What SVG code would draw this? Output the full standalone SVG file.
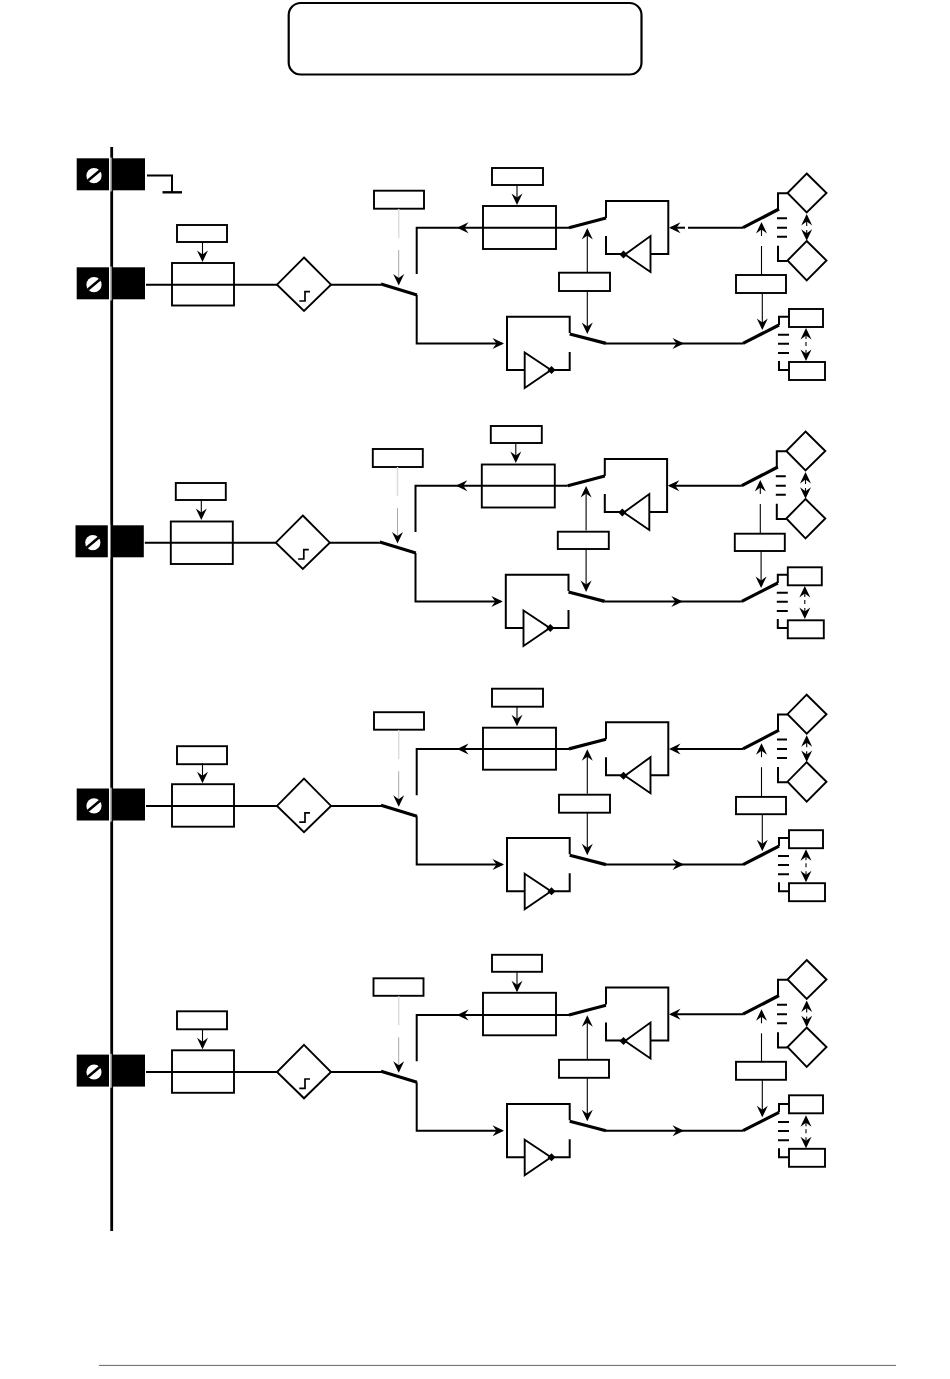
<svg xmlns="http://www.w3.org/2000/svg" width="950" height="1379" viewBox="0 0 950 1379">
<style>
.n{fill:#fff;stroke:#000;stroke-width:1.9}
.w{fill:none;stroke:#000;stroke-width:2}
.t{fill:none;stroke:#000;stroke-width:1.1}
.h{fill:none;stroke:#000;stroke-width:3.2}
.a{marker-end:url(#arrow)}
</style>
<defs>
<marker id="arrow" viewBox="0 0 12 12" refX="10" refY="6" markerWidth="12" markerHeight="12" markerUnits="userSpaceOnUse" orient="auto"><path d="M12 6L0.5 0.5L4.5 6L0.5 11.5Z" fill="#000"/></marker>
<g id="terminal">
<rect x="76.7" y="267.3" width="32.3" height="32"/>
<rect x="113" y="267.3" width="32" height="32"/>
<circle cx="94" cy="284.7" r="7.6" fill="#fff"/>
<line x1="88" y1="289.5" x2="100" y2="279.5" stroke="#000" stroke-width="2.6"/>
<rect x="110.4" y="266.5" width="1.1" height="34" fill="#fff"/>
</g>
<g id="step"><path class="n" d="M304 257.5L331 284.7L304 311L277 284.7Z"/><path d="M299.3 301H305V291.7H310" fill="none" stroke="#000" stroke-width="1.7"/></g>
<g id="invU"><path class="w" d="M606 218V201H668.3V254H650M624 254H606V236"/><path class="n" d="M650.5 236V272L625 254.5Z"/><path d="M623.5 250.5L627.5 254.5L623.5 258.5L619.5 254.5Z"/></g>
<g id="invL"><path class="w" d="M569.7 333V316.7H507V370H525M551 370H569.7V352"/><path class="n" d="M524.7 352.5V388L551 370Z"/><path d="M551.5 366L555.5 370L551.5 374L547.5 370Z"/></g>
<g id="wires">
<path class="w" d="M146 284.7H277M331 284.7H381"/>
<path class="h" d="M381 284L417 295"/>
<path class="w a" d="M416.7 295V343.4H502"/>
<path class="w" d="M416.7 274V227.7H459"/>
<path class="w a" d="M569 227.7H459"/>
<path class="h" d="M569 227.7L606 218"/>
<path class="h" d="M569.7 334L606 343.4"/>
<path class="w a" d="M606 343.4H682"/>
<path class="w" d="M682 343.4H743"/>
<path class="h" d="M743 343.4L779 325"/>
<path class="w" d="M779 325V316.7H789M779 361V370H789"/>
<path class="w" d="M778 334.7H789M778 343.7H789M778 353H789"/>
<path class="t a" d="M202.5 242V260"/>
<path class="t a" d="M517 185V203"/>
<path class="t a" d="M587.3 272.5V230"/>
<path class="t a" d="M587.3 291V332"/>
<path class="t a" d="M761.5 236V224"/>
<path class="t" d="M761.5 275V246"/>
<path class="t a" d="M762.3 293V328"/>
<path d="M398.7 209V238" fill="none" stroke="#ddd" stroke-width="1.5"/>
<path d="M398.7 250V278" fill="none" stroke="#aaa" stroke-width="1"/>
<path class="t a" d="M398.7 278V283.5"/>
<path class="t a" d="M806 339V330"/>
<path class="t" d="M806 342V346"/>
<path class="t a" d="M806 350V359"/>
</g>
<g id="wires-ur">
<path class="h" d="M743 227.7L779 209"/>
<path class="w" d="M778 209V193.3H787.5M778 245.7V261H787.5"/>
<path class="w" d="M777 218.3H787M777 227.7H787M777 236.7H787"/>
<path class="t a" d="M806.7 226V216"/>
<path class="t a" d="M806.7 230V238.7"/>
</g>
<g id="dia-ur"><path class="n" d="M806.7 173.5L826.5 193L806.7 212.5L787.5 193Z"/></g>
<g id="dia-lr"><path class="n" d="M806.7 241L826.5 260.5L806.7 280.5L787.5 260.5Z"/></g>
</defs>

<rect width="950" height="1379" fill="#fff"/>
<g id="title"><rect class="n" x="288.7" y="3" width="352.8" height="71.5" rx="12" style="stroke-width:2.2"/></g>
<g id="bus"><line x1="111.7" y1="147" x2="111.7" y2="1231" stroke="#000" stroke-width="2.8"/></g>
<g id="ground"><use href="#terminal" y="-109"/><path class="w" d="M147 175.5H172V192.3"/><path d="M162.5 192.3H182" fill="none" stroke="#000" stroke-width="2.4"/></g>

<g id="row1">
<g id="r1-terminal"><use href="#terminal"/></g>
<g id="r1-fuse"><rect class="n" x="172" y="263" width="62" height="42.5"/></g>
<g id="r1-fuse-label"><rect class="n" x="177" y="225" width="50" height="17"/></g>
<g id="r1-step"><use href="#step"/></g>
<g id="r1-sw-label"><rect class="n" x="374" y="190.7" width="50" height="18"/></g>
<g id="r1-out"><rect class="n" x="483" y="206" width="73" height="43"/></g>
<g id="r1-out-label"><rect class="n" x="492" y="168" width="51" height="17"/></g>
<g id="r1-inv-u"><use href="#invU"/></g>
<g id="r1-inv-l"><use href="#invL"/></g>
<g id="r1-mid"><rect class="n" x="559" y="272.7" width="51" height="18.3"/></g>
<g id="r1-right"><rect class="n" x="736" y="275" width="50" height="18"/></g>
<g id="r1-dia-u"><use href="#dia-ur"/></g>
<g id="r1-dia-l"><use href="#dia-lr"/></g>
<g id="r1-box-u"><rect class="n" x="789" y="309" width="34" height="18"/></g>
<g id="r1-box-l"><rect class="n" x="789" y="362" width="36" height="18"/></g>
</g>

<g id="row2" transform="translate(-1.2,258)">
<g id="r2-terminal"><use href="#terminal"/></g>
<g id="r2-fuse"><rect class="n" x="172" y="263.5" width="62" height="42.5"/></g>
<g id="r2-fuse-label"><rect class="n" x="177" y="225" width="50" height="17"/></g>
<g id="r2-step"><use href="#step"/></g>
<g id="r2-sw-label"><rect class="n" x="374" y="191" width="50" height="18"/></g>
<g id="r2-out"><rect class="n" x="483" y="206.5" width="73" height="43"/></g>
<g id="r2-out-label"><rect class="n" x="492" y="168" width="51" height="17"/></g>
<g id="r2-inv-u"><use href="#invU"/></g>
<g id="r2-inv-l"><use href="#invL"/></g>
<g id="r2-mid"><rect class="n" x="559" y="273.7" width="51" height="17.3"/></g>
<g id="r2-right"><rect class="n" x="736" y="275.7" width="50" height="17.3"/></g>
<g id="r2-dia-u"><use href="#dia-ur"/></g>
<g id="r2-dia-l"><use href="#dia-lr"/></g>
<g id="r2-box-u"><rect class="n" x="789" y="309.3" width="34" height="18"/></g>
<g id="r2-box-l"><rect class="n" x="789" y="362.3" width="36" height="18"/></g>
</g>

<g id="row3" transform="translate(0,521.2)">
<g id="r3-terminal"><use href="#terminal"/></g>
<g id="r3-fuse"><rect class="n" x="172" y="263" width="62" height="42.5"/></g>
<g id="r3-fuse-label"><rect class="n" x="177" y="225" width="50" height="18"/></g>
<g id="r3-step"><use href="#step"/></g>
<g id="r3-sw-label"><rect class="n" x="374" y="191" width="50" height="17.5"/></g>
<g id="r3-out"><rect class="n" x="483" y="206.5" width="73" height="42"/></g>
<g id="r3-out-label"><rect class="n" x="492" y="167.5" width="51" height="18"/></g>
<g id="r3-inv-u"><use href="#invU"/></g>
<g id="r3-inv-l"><use href="#invL"/></g>
<g id="r3-mid"><rect class="n" x="559" y="273.5" width="51" height="18"/></g>
<g id="r3-right"><rect class="n" x="736" y="275.7" width="50" height="17.3"/></g>
<g id="r3-dia-u"><use href="#dia-ur"/></g>
<g id="r3-dia-l"><use href="#dia-lr"/></g>
<g id="r3-box-u"><rect class="n" x="789" y="309" width="34" height="18"/></g>
<g id="r3-box-l"><rect class="n" x="789" y="362" width="36" height="18"/></g>
</g>

<g id="row4" transform="translate(0,787.3)">
<g id="r4-terminal"><use href="#terminal"/></g>
<g id="r4-fuse"><rect class="n" x="172" y="263" width="62" height="42.5"/></g>
<g id="r4-fuse-label"><rect class="n" x="177" y="224" width="50" height="18"/></g>
<g id="r4-step"><use href="#step"/></g>
<g id="r4-sw-label"><rect class="n" x="373.5" y="191" width="50" height="17.5"/></g>
<g id="r4-out"><rect class="n" x="483" y="205.5" width="73" height="42.5"/></g>
<g id="r4-out-label"><rect class="n" x="492" y="167.5" width="50" height="17"/></g>
<g id="r4-inv-u"><use href="#invU" y="-0.8"/></g>
<g id="r4-inv-l"><use href="#invL"/></g>
<g id="r4-mid"><rect class="n" x="559" y="272.5" width="50" height="18"/></g>
<g id="r4-right"><rect class="n" x="736" y="274.5" width="50" height="18"/></g>
<g id="r4-dia-u"><use href="#dia-ur" y="-0.8"/></g>
<g id="r4-dia-l"><use href="#dia-lr" y="-0.8"/></g>
<g id="r4-box-u"><rect class="n" x="789" y="308" width="34" height="18"/></g>
<g id="r4-box-l"><rect class="n" x="789" y="361.5" width="36" height="18"/></g>
</g>

<g id="connectors">
<g id="c1"><use href="#wires"/><use href="#wires-ur"/>
<path class="w a" d="M685 227.7H671"/><path class="w" d="M688 227.7H743"/></g>
<g id="c2" transform="translate(-1.2,258)"><use href="#wires"/><use href="#wires-ur"/><path class="w a" d="M743 227.7H671"/></g>
<g id="c3" transform="translate(0,521.2)"><use href="#wires"/><use href="#wires-ur"/><path class="w a" d="M743 227.7H671"/></g>
<g id="c4" transform="translate(0,787.3)"><use href="#wires"/><use href="#wires-ur" y="-0.8"/><path class="w a" d="M743 226.9H671"/></g>
</g>

<line id="footer-rule" x1="99" y1="1365.4" x2="896" y2="1365.4" stroke="#666" stroke-width="1"/>
</svg>
